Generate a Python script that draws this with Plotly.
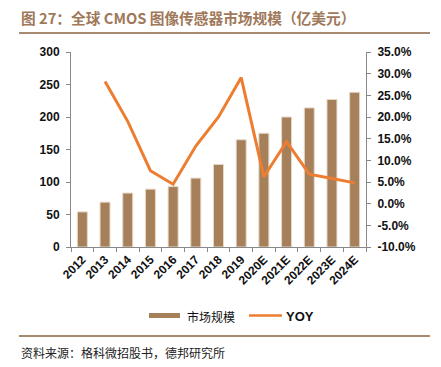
import plotly.graph_objects as go

years = ["2012", "2013", "2014", "2015", "2016", "2017", "2018", "2019",
         "2020E", "2021E", "2022E", "2023E", "2024E"]
market = [54, 69, 83, 89, 93, 106, 127, 165, 175, 200, 214, 227, 238]
yoy = [None, 28.2, 19.0, 7.6, 4.5, 13.3, 20.0, 29.1, 6.2, 14.3, 6.8, 5.8, 4.8]
left_ticks = [0, 50, 100, 150, 200, 250, 300]
right_ticks = [-10, -5, 0, 5, 10, 15, 20, 25, 30, 35]

# the page body has an 8px default margin: work in window pixels and shift
OFF = 8
W, H = 441 - OFF, 367 - OFF
L, R, T, B = 71 - OFF, 366 - OFF, 52 - OFF, 247 - OFF
pw, ph = R - L, B - T

def px(x):
    return (x - OFF - L) / pw

def py(y):
    return (B - (y - OFF)) / ph

tickfont = dict(family="Liberation Sans, Arial, sans-serif", size=12, color="#111111", weight="bold")
bar_color = "#a6805a"
line_color = "#ed7d31"

fig = go.Figure()
fig.add_trace(go.Bar(
    x=years, y=market, name="市场规模",
    marker=dict(color=bar_color, line=dict(color="#e6d8c8", width=1)),
    width=0.44, yaxis="y",
))
fig.add_trace(go.Scatter(
    x=years, y=yoy, name="YOY", mode="lines",
    line=dict(color=line_color, width=3), yaxis="y2", connectgaps=False,
))

fig.update_layout(
    width=W, height=H,
    margin=dict(l=L, r=W - R, t=T, b=H - B, autoexpand=False),
    paper_bgcolor="white", plot_bgcolor="white",
    showlegend=False,
    xaxis=dict(
        type="category", tickangle=-45, tickfont=tickfont,
        showline=True, linecolor="#888888", linewidth=1,
        ticks="outside", ticklen=4, tickcolor="#888888",
        tickson="boundaries", showgrid=False, zeroline=False, automargin=False,
    ),
    yaxis=dict(
        range=[0, 300], tickvals=left_ticks, tickfont=tickfont,
        showline=True, linecolor="#888888", linewidth=1,
        ticks="outside", ticklen=4, tickcolor="#888888", ticklabelstandoff=4,
        showgrid=False, zeroline=False, automargin=False,
    ),
    yaxis2=dict(
        range=[-10, 35], tickvals=right_ticks,
        ticktext=[f"{v:.1f}%" for v in right_ticks], tickfont=tickfont,
        overlaying="y", side="right",
        showline=True, linecolor="#888888", linewidth=1,
        ticks="outside", ticklen=4, tickcolor="#888888", ticklabelstandoff=4,
        showgrid=False, zeroline=False, automargin=False,
    ),
)

# title and rules
fig.add_annotation(
    xref="paper", yref="paper", x=px(19), y=py(18), xanchor="left", yanchor="middle",
    text="<b>图 27：全球 CMOS 图像传感器市场规模（亿美元）</b>", showarrow=False,
    font=dict(family="Noto Sans CJK SC, Liberation Sans, sans-serif", size=14.7, color="#a0785a"),
)
fig.add_shape(type="line", xref="paper", yref="paper", x0=px(19), x1=px(430), y0=py(33), y1=py(33),
              line=dict(color="#a68a72", width=2))
fig.add_shape(type="line", xref="paper", yref="paper", x0=px(19), x1=px(430), y0=py(336), y1=py(336),
              line=dict(color="#a68a72", width=2))
fig.add_annotation(
    xref="paper", yref="paper", x=px(19), y=py(352), xanchor="left", yanchor="middle",
    text="资料来源：格科微招股书，德邦研究所", showarrow=False,
    font=dict(family="Noto Sans CJK SC, sans-serif", size=12, color="#222222"),
)

# legend
legfont = dict(family="Noto Sans CJK SC, Liberation Sans, sans-serif", size=12, color="#111111")
fig.add_shape(type="rect", xref="paper", yref="paper", x0=px(149), x1=px(180), y0=py(313), y1=py(318),
              fillcolor=bar_color, line=dict(width=0))
fig.add_annotation(xref="paper", yref="paper", x=px(185), y=py(316), xanchor="left", yanchor="middle",
                   text="市场规模", showarrow=False, font=legfont)
fig.add_shape(type="line", xref="paper", yref="paper", x0=px(249), x1=px(282), y0=py(315.5), y1=py(315.5),
              line=dict(color=line_color, width=2.5))
fig.add_annotation(xref="paper", yref="paper", x=px(284), y=py(316), xanchor="left", yanchor="middle",
                   text="<b>YOY</b>", showarrow=False,
                   font=dict(family="Liberation Sans, Arial, sans-serif", size=13, color="#111111"))

fig.write_html("out.html")
